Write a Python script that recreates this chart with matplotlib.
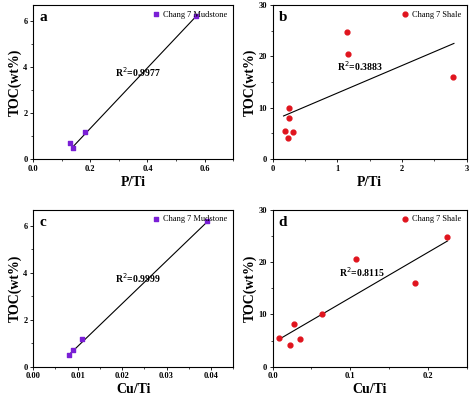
import matplotlib
matplotlib.use("Agg")
import matplotlib.pyplot as plt
from matplotlib.ticker import AutoMinorLocator

plt.rcParams['font.family'] = ['Liberation Serif', 'DejaVu Serif']

# panel data
a_x = [0.13, 0.14, 0.18, 0.57]
a_y = [0.7, 0.5, 1.2, 6.2]
a_fit_x = [0.14, 0.57]
a_fit_y = [0.55, 6.2]

b_x = [0.19, 0.24, 0.25, 0.25, 0.32, 1.15, 1.17, 2.78]
b_y = [5.5, 4.2, 10.0, 8.1, 5.3, 24.7, 20.5, 15.9]
b_fit_x = [0.17, 2.8]
b_fit_y = [8.4, 22.5]

c_x = [0.008, 0.009, 0.011, 0.039]
c_y = [0.5, 0.7, 1.2, 6.2]
c_fit_x = [0.008, 0.039]
c_fit_y = [0.5, 6.15]

d_x = [0.008, 0.023, 0.028, 0.035, 0.064, 0.107, 0.183, 0.225]
d_y = [5.5, 4.2, 8.2, 5.3, 10.0, 20.5, 15.9, 24.7]
d_fit_x = [0.008, 0.225]
d_fit_y = [5.2, 24.0]

fig = plt.figure(figsize=(4.74, 4.03), dpi=100)

def panel(rect, x, y, fx, fy, letter, r2, r2pos, label, marker, color,
          xlim, ylim, xticks, yticks, xlabel):
    ax = fig.add_axes(rect)
    ax.plot(fx, fy, color='black', lw=0.8)
    ax.scatter(x, y, marker=marker, color=color, s=12, zorder=3, label=label)
    ax.set_xlim(*xlim)
    ax.set_ylim(*ylim)
    ax.set_xticks(xticks)
    ax.set_yticks(yticks)
    ax.xaxis.set_minor_locator(AutoMinorLocator(2))
    ax.yaxis.set_minor_locator(AutoMinorLocator(2))
    ax.tick_params(labelsize=6, length=2, width=0.6, pad=2)
    ax.tick_params(which='minor', length=1.2, width=0.5)
    for lb in ax.get_xticklabels() + ax.get_yticklabels():
        lb.set_fontweight('bold')
    for s in ax.spines.values():
        s.set_linewidth(0.8)
    ax.set_xlabel(xlabel, fontsize=10, fontweight='bold', labelpad=2)
    ax.set_ylabel('TOC(wt%)', fontsize=10, fontweight='bold', labelpad=1)
    ax.text(0.03, 0.96, letter, transform=ax.transAxes, fontsize=11,
            fontweight='bold', va='top')
    ax.text(r2pos[0], r2pos[1], r2, transform=ax.transAxes, fontsize=7,
            fontweight='bold')
    ax.legend(loc='upper right', fontsize=6, frameon=False, handletextpad=0.3,
              borderaxespad=0.3, handlelength=1)
    return ax

panel([0.07, 0.605, 0.422, 0.383], a_x, a_y, a_fit_x, a_fit_y, 'a',
      r'R$^2$=0.9977', (0.41, 0.53), 'Chang 7 Mudstone', 's', '#7a1fd6',
      (0, 0.7), (0, 6.7), [0, 0.2, 0.4, 0.6], [0, 2, 4, 6], 'P/Ti')
panel([0.575, 0.605, 0.41, 0.383], b_x, b_y, b_fit_x, b_fit_y, 'b',
      r'R$^2$=0.3883', (0.33, 0.57), 'Chang 7 Shale', 'o', '#e0141e',
      (0, 3), (0, 30), [0, 1, 2, 3], [0, 10, 20, 30], 'P/Ti')
panel([0.07, 0.09, 0.422, 0.39], c_x, c_y, c_fit_x, c_fit_y, 'c',
      r'R$^2$=0.9999', (0.41, 0.53), 'Chang 7 Mudstone', 's', '#7a1fd6',
      (0, 0.045), (0, 6.7), [0, 0.01, 0.02, 0.03, 0.04], [0, 2, 4, 6], 'Cu/Ti')
panel([0.575, 0.09, 0.41, 0.39], d_x, d_y, d_fit_x, d_fit_y, 'd',
      r'R$^2$=0.8115', (0.34, 0.57), 'Chang 7 Shale', 'o', '#e0141e',
      (0, 0.25), (0, 30), [0, 0.1, 0.2], [0, 10, 20, 30], 'Cu/Ti')

fig.savefig('out.png', dpi=100)
